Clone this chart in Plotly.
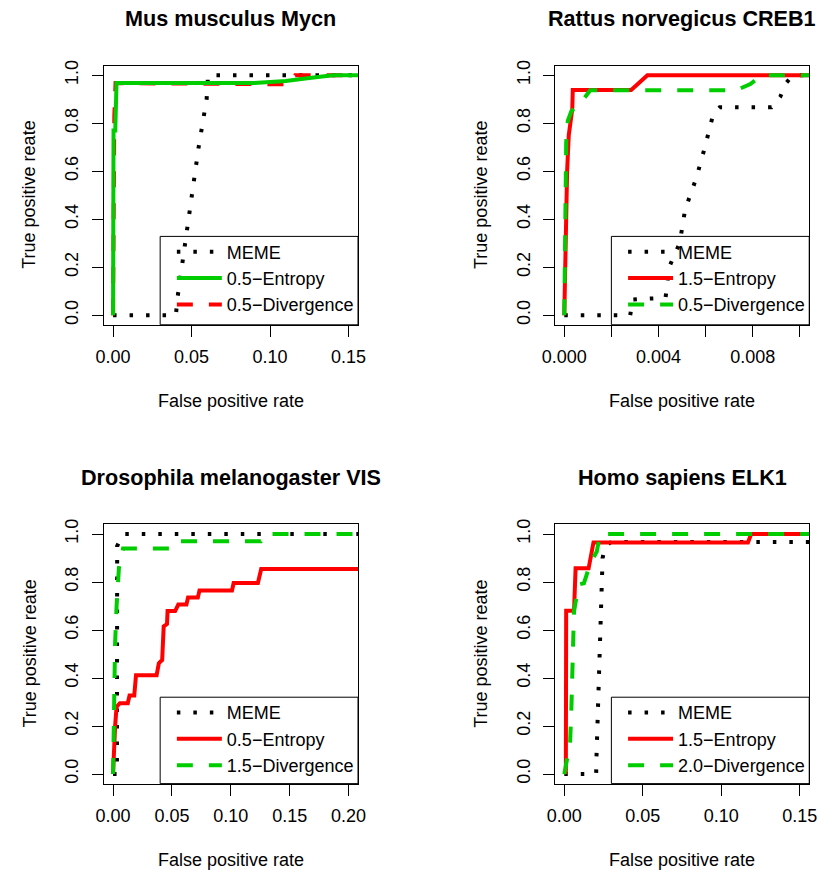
import plotly.graph_objects as go

W, H = 826, 873
FONT = "Liberation Sans, Arial, Helvetica, sans-serif"

# ---------------- data ----------------
titles = ["Mus musculus Mycn", "Rattus norvegicus CREB1",
          "Drosophila melanogaster VIS", "Homo sapiens ELK1"]
x_label = "False positive rate"
y_label = "True positive reate"

# Panel 1: Mus musculus Mycn
mycn_meme_fpr = [0, 0.040, 0.0412, 0.0453, 0.0501, 0.0545, 0.0596, 0.0605, 1.0]
mycn_meme_tpr = [0, 0, 0.08, 0.28, 0.49, 0.70, 0.90, 1.0, 1.0]
mycn_ent_fpr = [0, 0.0003, 0.0014, 0.0022, 0.090, 0.110, 0.125, 0.140, 1.0]
mycn_ent_tpr = [0, 0.77, 0.77, 0.967, 0.967, 0.976, 0.988, 1.0, 1.0]
mycn_div_fpr = [0, 0.0003, 0.0008, 0.0016, 0.112, 0.116, 1.0]
mycn_div_tpr = [0, 0.77, 0.83, 0.967, 0.962, 1.0, 1.0]
mycn_labels = ["MEME", "0.5\u2212Entropy", "0.5\u2212Divergence"]

# Panel 2: Rattus norvegicus CREB1
creb1_meme_fpr = [0, 0.0028, 0.0029, 0.0043, 0.00445, 0.0049, 0.00513, 0.0056,
                  0.00597, 0.00632, 0.0066, 0.0088, 0.00917, 0.0094, 0.0097, 1.0]
creb1_meme_tpr = [0, 0, 0.065, 0.073, 0.20, 0.30, 0.44, 0.57,
                  0.70, 0.836, 0.866, 0.866, 0.91, 0.965, 1.0, 1.0]
creb1_ent_fpr = [0, 0.00005, 0.00012, 0.00019, 0.00028, 0.00034, 0.00036,
                 0.00284, 0.00353, 1.0]
creb1_ent_tpr = [0, 0.30, 0.60, 0.75, 0.82, 0.86, 0.938, 0.938, 1.0, 1.0]
creb1_div_fpr = [0, 0.00003, 0.00008, 0.00015, 0.0003, 0.0007, 0.0011,
                 0.0073, 0.0079, 0.0084, 1.0]
creb1_div_tpr = [0, 0.50, 0.72, 0.81, 0.85, 0.885, 0.937, 0.937, 0.963, 1.0, 1.0]
creb1_labels = ["MEME", "1.5\u2212Entropy", "0.5\u2212Divergence"]

# Panel 3: Drosophila melanogaster VIS
vis_meme_fpr = [0, 0.0033, 0.0035, 0.0085, 1.0]
vis_meme_tpr = [0, 0, 0.95, 1.0, 1.0]
vis_ent_fpr = [0, 0.0005, 0.0017, 0.003, 0.0058, 0.0125, 0.014, 0.018, 0.0195,
               0.037, 0.0389, 0.0417, 0.043, 0.0458, 0.0463, 0.0527, 0.0554,
               0.0623, 0.0637, 0.072, 0.0734, 0.101, 0.1024, 0.123, 0.1258, 1.0]
vis_ent_tpr = [0, 0.11, 0.196, 0.28, 0.295, 0.295, 0.327, 0.327, 0.412,
               0.412, 0.462, 0.475, 0.615, 0.625, 0.679, 0.679, 0.706,
               0.706, 0.735, 0.735, 0.765, 0.765, 0.796, 0.796, 0.854, 0.854]
vis_div_fpr = [0, 0.0008, 0.0017, 0.003, 0.005, 0.0085, 0.052, 0.056,
               0.1255, 0.1285, 1.0]
vis_div_tpr = [0, 0.39, 0.54, 0.70, 0.86, 0.94, 0.94, 0.97, 0.97, 1.0, 1.0]
vis_labels = ["MEME", "0.5\u2212Entropy", "1.5\u2212Divergence"]

# Panel 4: Homo sapiens ELK1
elk1_meme_fpr = [0, 0.0203, 0.0205, 0.0215, 0.0230, 0.0244, 0.0262, 0.030, 1.0]
elk1_meme_tpr = [0, 0, 0.07, 0.30, 0.60, 0.90, 0.95, 0.967, 0.967]
elk1_ent_fpr = [0.001, 0.0012, 0.0062, 0.0072, 0.0155, 0.0176, 0.0186,
                0.117, 0.119, 1.0]
elk1_ent_tpr = [0, 0.68, 0.68, 0.857, 0.857, 0.927, 0.965, 0.965, 1.0, 1.0]
elk1_div_fpr = [0, 0.001, 0.0037, 0.0045, 0.0052, 0.0058, 0.0062, 0.0093,
                0.0125, 0.0166, 0.0207, 0.0228, 1.0]
elk1_div_tpr = [0, 0.04, 0.13, 0.27, 0.42, 0.55, 0.68, 0.79, 0.795, 0.878,
                0.927, 1.0, 1.0]
elk1_labels = ["MEME", "1.5\u2212Entropy", "2.0\u2212Divergence"]

y_ticks = [0, 0.2, 0.4, 0.6, 0.8, 1.0]
y_ticktext = ["0.0", "0.2", "0.4", "0.6", "0.8", "1.0"]
x_ticks = [
    [0, 0.05, 0.10, 0.15],
    [0, 0.002, 0.004, 0.006, 0.008, 0.010],
    [0, 0.05, 0.10, 0.15, 0.20],
    [0, 0.05, 0.10, 0.15],
]
x_ticktext = [
    ["0.00", "0.05", "0.10", "0.15"],
    ["0.000", "", "0.004", "", "0.008", ""],
    ["0.00", "0.05", "0.10", "0.15", "0.20"],
    ["0.00", "0.05", "0.10", "0.15"],
]
x_ranges = [[-0.006, 0.156], [-0.0004, 0.0104], [-0.008, 0.208], [-0.006, 0.156]]
y_range = [-0.04, 1.04]

# ---------------- layout geometry (pixels) ----------------
panels_px = [  # left, right, top, bottom of plotting box
    (93, 354, 60, 321),
    (556, 817, 60, 321),
    (93, 354, 522, 783),
    (556, 817, 522, 783),
]
legend_px = [  # legend box: left, right, top, bottom
    (151, 354, 232, 321),
    (614, 817, 232, 321),
    (151, 354, 696, 783),
    (614, 817, 696, 783),
]

RED = "#FF0000"
GREEN = "#00CD00"
LW = 4
DOT = "3.5px,13px"
DASH = "16px,16px"


def px(x):
    return x / W


def py(y):
    return 1 - y / H


fig = go.Figure()

series = [
    (mycn_meme_fpr, mycn_meme_tpr, mycn_div_fpr, mycn_div_tpr, mycn_ent_fpr, mycn_ent_tpr, mycn_labels),
    (creb1_meme_fpr, creb1_meme_tpr, creb1_ent_fpr, creb1_ent_tpr, creb1_div_fpr, creb1_div_tpr, creb1_labels),
    (vis_meme_fpr, vis_meme_tpr, vis_ent_fpr, vis_ent_tpr, vis_div_fpr, vis_div_tpr, vis_labels),
    (elk1_meme_fpr, elk1_meme_tpr, elk1_ent_fpr, elk1_ent_tpr, elk1_div_fpr, elk1_div_tpr, elk1_labels),
]

for i in range(4):
    sfx = "" if i == 0 else str(i + 1)
    xa, ya = "x" + sfx, "y" + sfx
    leg = "legend" + sfx
    mf, mt, af, at, bf, bt, labels = series[i]
    if i == 0:
        # panel 1: red dashed divergence drawn under green solid entropy
        styles = [
            (mf, mt, labels[0], "black", DOT, 1),
            (af, at, labels[2], RED, DASH, 3),
            (bf, bt, labels[1], GREEN, "solid", 2),
        ]
    else:
        styles = [
            (mf, mt, labels[0], "black", DOT, 1),
            (af, at, labels[1], RED, "solid", 2),
            (bf, bt, labels[2], GREEN, DASH, 3),
        ]
    for fx, ty, name, col, dash, rank in styles:
        fig.add_trace(go.Scatter(
            x=fx, y=ty, mode="lines", name=name,
            line=dict(color=col, width=LW, dash=dash),
            xaxis=xa, yaxis=ya, legend=leg, legendrank=rank,
            hoverinfo="skip",
        ))

axis_font = dict(family=FONT, size=18, color="black")
layout = dict(
    width=W, height=H,
    margin=dict(l=0, r=0, t=0, b=0),
    paper_bgcolor="white", plot_bgcolor="white",
    showlegend=True,
    annotations=[], shapes=[],
)

for i in range(4):
    sfx = "" if i == 0 else str(i + 1)
    l, r, t, b = panels_px[i]
    layout["xaxis" + sfx] = dict(
        domain=[px(l), px(r)], range=x_ranges[i], anchor="y" + sfx,
        tickmode="array", tickvals=x_ticks[i], ticktext=x_ticktext[i],
        ticks="outside", ticklen=11, tickwidth=1, tickcolor="black",
        showline=True, linecolor="black", linewidth=1, mirror=True,
        showgrid=False, zeroline=False, tickfont=axis_font,
        ticklabelstandoff=5,
    )
    layout["yaxis" + sfx] = dict(
        domain=[py(b), py(t)], range=y_range, anchor="x" + sfx,
        tickmode="array", tickvals=y_ticks, ticktext=y_ticktext,
        ticks="outside", ticklen=11, tickwidth=1, tickcolor="black",
        showline=True, linecolor="black", linewidth=1, mirror=True,
        showgrid=False, zeroline=False, tickfont=axis_font, tickangle=-90,
        ticklabelstandoff=6,
    )
    cx = (l + r) / 2
    cy = (t + b) / 2
    # title
    layout["annotations"].append(dict(
        text="<b>" + titles[i] + "</b>", xref="paper", yref="paper",
        x=px(cx), y=py(t - 47), xanchor="center", yanchor="middle",
        showarrow=False, font=dict(family=FONT, size=21.6, color="black"),
    ))
    # x label
    layout["annotations"].append(dict(
        text=x_label, xref="paper", yref="paper",
        x=px(cx), y=py(b + 77), xanchor="center", yanchor="middle",
        showarrow=False, font=axis_font,
    ))
    # y label
    layout["annotations"].append(dict(
        text=y_label, xref="paper", yref="paper", textangle=-90,
        x=px(l - 76), y=py(cy), xanchor="center", yanchor="middle",
        showarrow=False, font=axis_font,
    ))
    # legend box and legend
    ll, lr, lt, lb = legend_px[i]
    layout["shapes"].append(dict(
        type="rect", xref="paper", yref="paper",
        x0=px(ll), x1=px(lr), y0=py(lb), y1=py(lt),
        line=dict(color="black", width=1), fillcolor="rgba(0,0,0,0)",
        layer="above",
    ))
    layout["legend" + sfx] = dict(
        x=px(ll + 12), y=py(lt - 3), xanchor="left", yanchor="top",
        xref="paper", yref="paper",
        bgcolor="rgba(0,0,0,0)", borderwidth=0,
        font=dict(family=FONT, size=18, color="black"),
        itemwidth=45, traceorder="normal",
    )

fig.update_layout(**layout)
fig.write_html("out.html")
